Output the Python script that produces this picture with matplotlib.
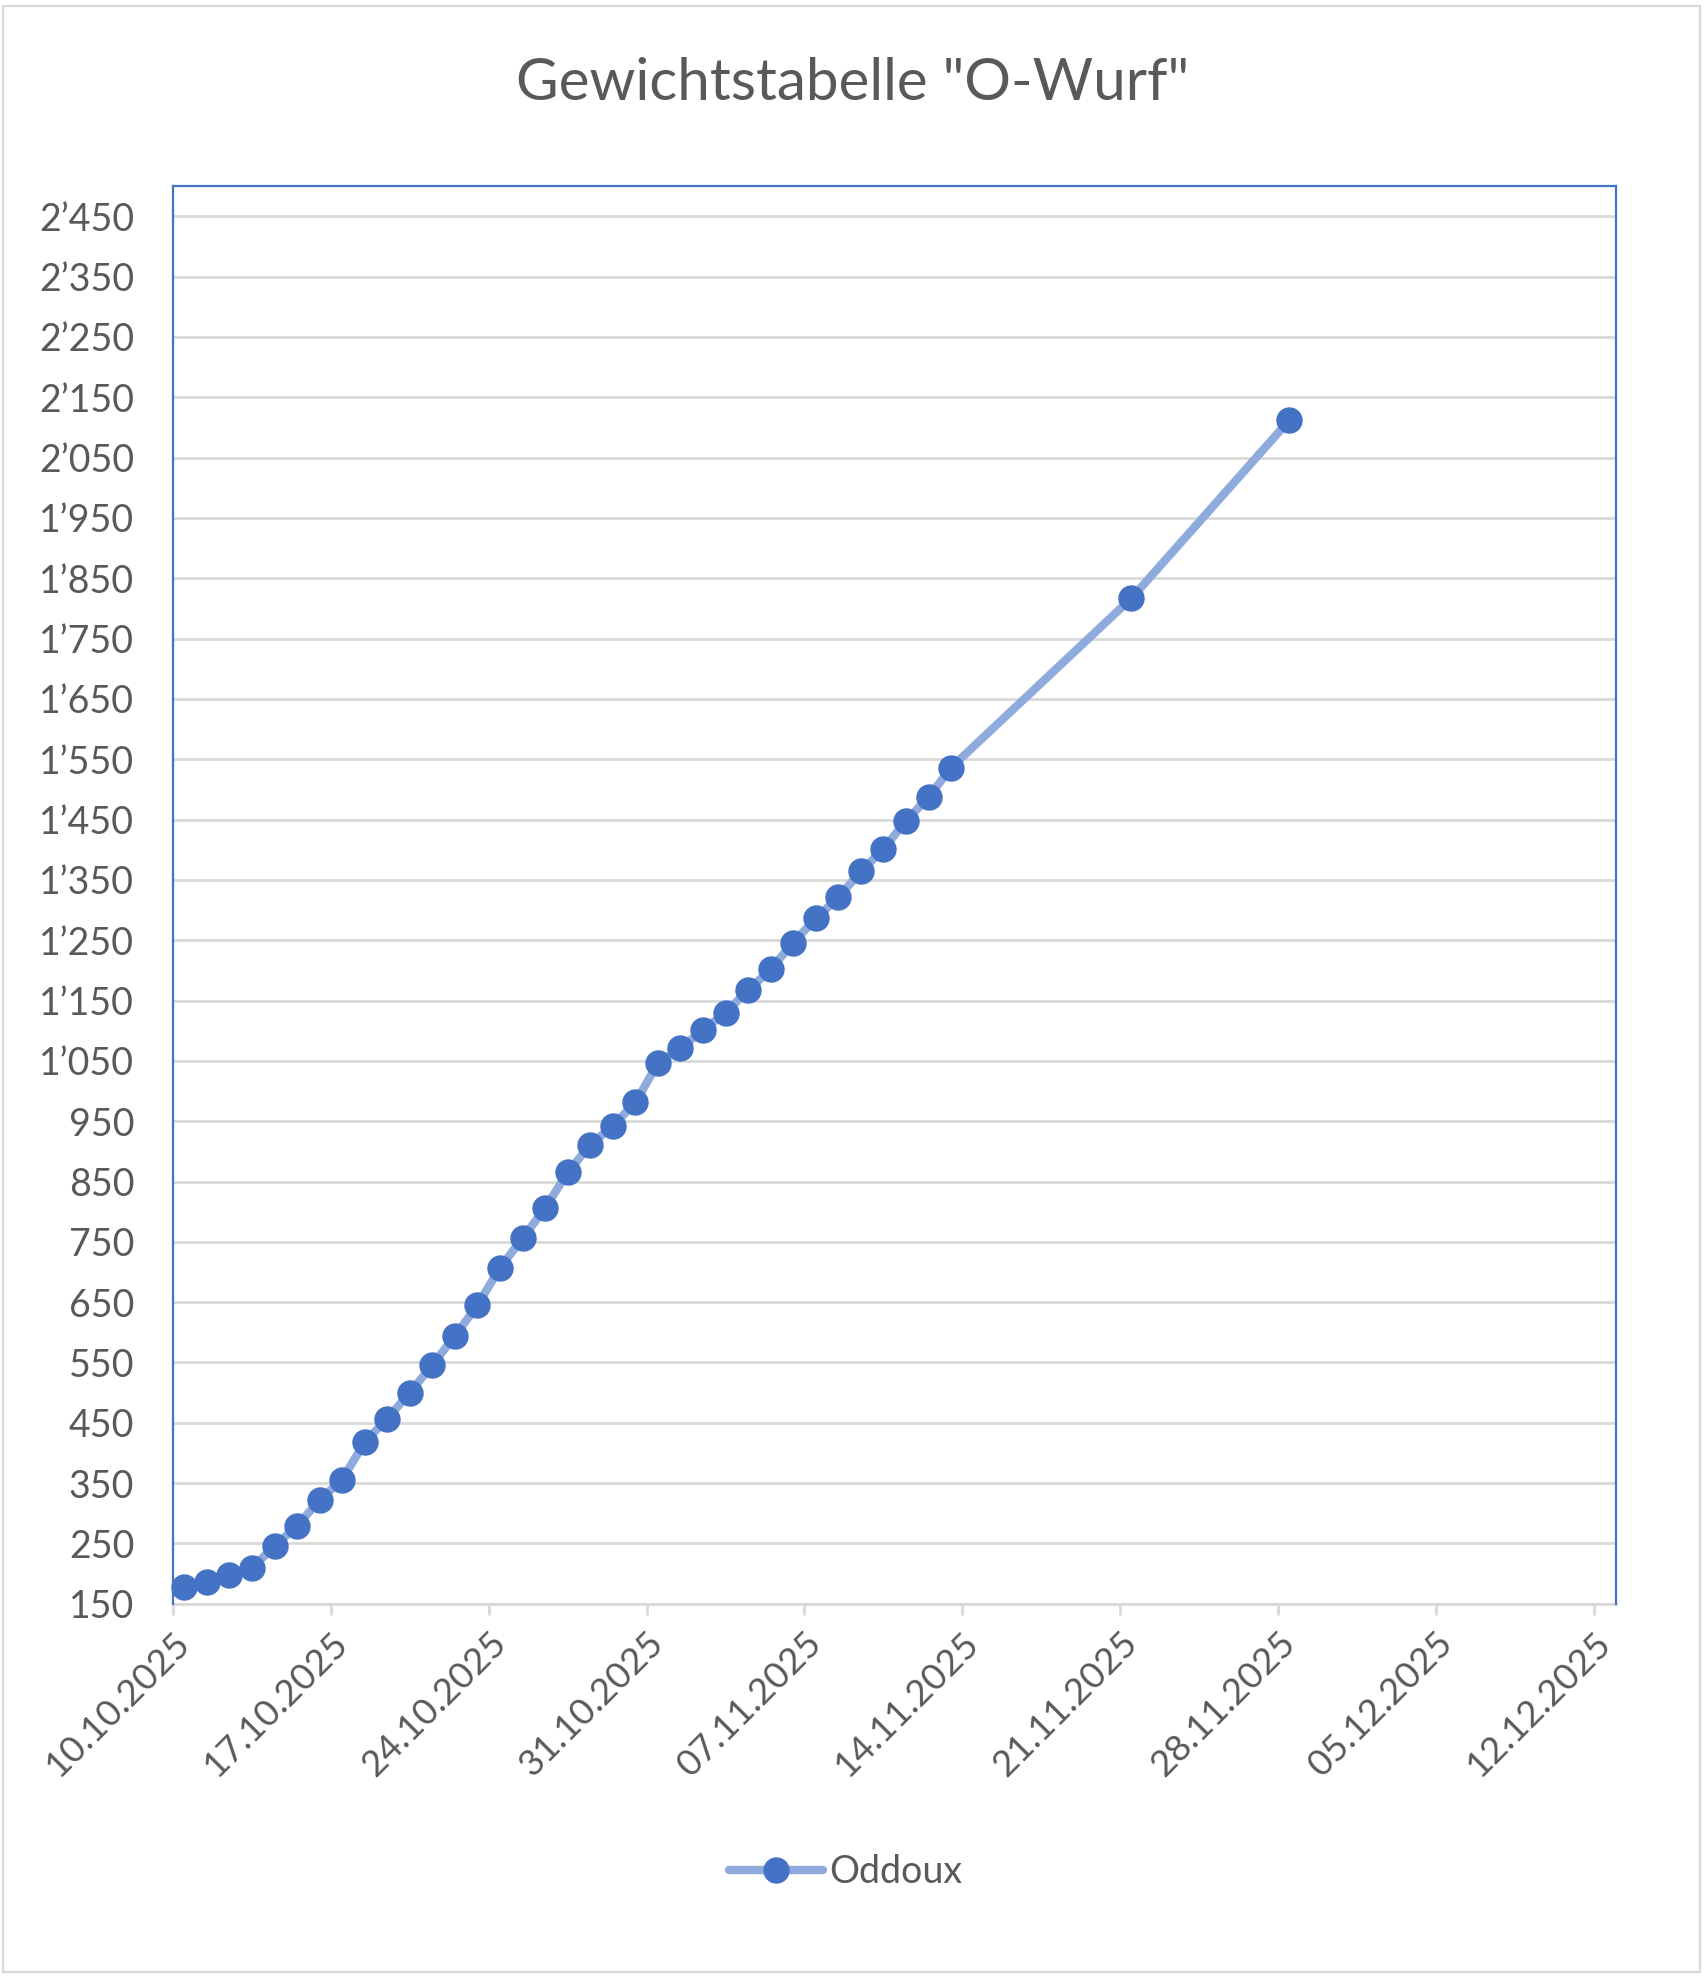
import matplotlib
matplotlib.use("Agg")
import matplotlib.pyplot as plt
import matplotlib.dates as mdates
from matplotlib.ticker import FuncFormatter, FixedLocator
from matplotlib.patches import Rectangle
from datetime import datetime, timedelta

# ---- data ----
dates = ["10.10.2025", "11.10.2025", "12.10.2025", "13.10.2025", "14.10.2025",
         "15.10.2025", "16.10.2025", "17.10.2025", "18.10.2025", "19.10.2025",
         "20.10.2025", "21.10.2025", "22.10.2025", "23.10.2025", "24.10.2025",
         "25.10.2025", "26.10.2025", "27.10.2025", "28.10.2025", "29.10.2025",
         "30.10.2025", "31.10.2025", "01.11.2025", "02.11.2025", "03.11.2025",
         "04.11.2025", "05.11.2025", "06.11.2025", "07.11.2025", "08.11.2025",
         "09.11.2025", "10.11.2025", "11.11.2025", "12.11.2025", "13.11.2025",
         "21.11.2025", "28.11.2025"]
weights = [178, 186, 197, 209, 246, 279, 322, 356, 418, 457,
           500, 546, 594, 645, 707, 756, 806, 865, 911, 942,
           981, 1046, 1071, 1101, 1130, 1167, 1202, 1246, 1286, 1321,
           1364, 1401, 1448, 1487, 1536, 1817, 2112]
series_name = "Oddoux"
title = 'Gewichtstabelle "O-Wurf"'
x_start, x_end = "10.10.2025", "13.12.2025"
y_ticks = list(range(150, 2451, 100))
y_min, y_max = 150, 2500

FONT = "Lato"
TXT = "#595959"
plt.rcParams["font.family"] = [FONT, "DejaVu Sans"]

def d(s):
    return datetime.strptime(s, "%d.%m.%Y")

# Excel date axis: points sit in the middle of their day slot
xs = [d(s) + timedelta(hours=12) for s in dates]

fig = plt.figure(figsize=(17.05, 19.8), dpi=100)
fig.patch.set_facecolor("white")
fig.patches.append(Rectangle((0.002, 0.004), 0.995, 0.993, transform=fig.transFigure,
                             fill=False, edgecolor="#D9D9D9", linewidth=1.6, zorder=0))

ax = fig.add_axes([0.1015, 0.190, 0.8465, 0.716])
line, = ax.plot(xs, weights, color="#8FAADC", linewidth=6, marker="o",
                markersize=18, markerfacecolor="#4472C4", markeredgecolor="#4472C4",
                solid_capstyle="round", label=series_name, zorder=3, clip_on=False)

ax.set_xlim(d(x_start), d(x_end))
ax.set_ylim(y_min, y_max)
xt = []
cur = d(x_start)
while cur <= d(x_end):
    xt.append(cur)
    cur += timedelta(days=7)
ax.set_xticks(xt)
ax.xaxis.set_major_formatter(mdates.DateFormatter("%d.%m.%Y"))
ax.yaxis.set_major_locator(FixedLocator(y_ticks))
ax.yaxis.set_major_formatter(FuncFormatter(lambda v, p: f"{int(v):,}".replace(",", "\u2019")))

ax.grid(axis="y", color="#D9D9D9", linewidth=2.0, zorder=0)
ax.set_axisbelow(True)
for s in ["top", "left", "right"]:
    ax.spines[s].set_color("#4472C4")
    ax.spines[s].set_linewidth(1.6)
ax.spines["bottom"].set_color("#D9D9D9")
ax.spines["bottom"].set_linewidth(2.0)
ax.spines["bottom"].set_zorder(2)

ax.tick_params(axis="y", length=0, pad=28, labelsize=27, labelcolor=TXT)
ax.tick_params(axis="x", length=8, width=2.0, color="#D9D9D9", direction="out",
               pad=8, labelsize=26.5, labelcolor=TXT)
for lab in ax.get_xticklabels():
    lab.set_rotation(45)
    lab.set_ha("right")
    lab.set_va("top")
    lab.set_rotation_mode("anchor")

fig.text(0.5, 0.958, title, ha="center", va="center", fontsize=42, color=TXT)

leg = fig.legend(handles=[line], labels=[series_name], loc="center",
                 bbox_to_anchor=(0.496, 0.0545), frameon=False, fontsize=27,
                 handlelength=2.5, handletextpad=0.15, labelcolor=TXT)

fig.savefig("out.png", dpi=100, facecolor="white")
